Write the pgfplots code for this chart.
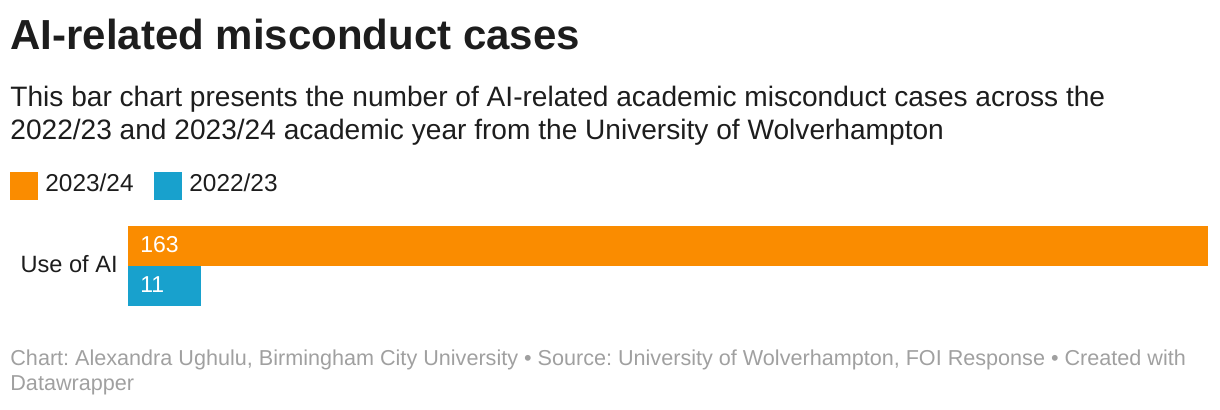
\documentclass[border=0pt]{standalone}
\usepackage{pgfplots}
\pgfplotsset{compat=1.18}
\usepackage{fontspec}
\setmainfont{Liberation Sans}
\frenchspacing
\definecolor{dwOrange}{HTML}{FA8C00}
\definecolor{dwBlue}{HTML}{18A1CD}
\definecolor{dwText}{HTML}{1D1D1D}
\definecolor{dwGray}{HTML}{A0A0A0}
\begin{document}
\begin{tikzpicture}
\useasboundingbox (0,0) rectangle (610pt,205pt);
% title & subtitle
\node[anchor=base west, inner sep=0pt, text=dwText, font=\fontsize{21}{25}\selectfont\bfseries] at (5pt,180pt) {AI-related misconduct cases};
\node[anchor=base west, inner sep=0pt, text=dwText, font=\fontsize{14.05}{16}\selectfont] at (5pt,151.5pt) {This bar chart presents the number of AI-related academic misconduct cases across the};
\node[anchor=base west, inner sep=0pt, text=dwText, font=\fontsize{14.05}{16}\selectfont] at (5pt,135pt) {2022/23 and 2023/24 academic year from the University of Wolverhampton};
% legend
\fill[dwOrange] (5pt,105pt) rectangle (19pt,119pt);
\node[anchor=base west, inner sep=0pt, text=dwText, font=\fontsize{12.2}{14}\selectfont] at (22.5pt,109pt) {2023/24};
\fill[dwBlue] (77pt,105pt) rectangle (91pt,119pt);
\node[anchor=base west, inner sep=0pt, text=dwText, font=\fontsize{12.2}{14}\selectfont] at (94.5pt,109pt) {2022/23};
% category label
\node[anchor=base east, inner sep=0pt, text=dwText, font=\fontsize{11.8}{14}\selectfont] at (59pt,68.5pt) {Use of AI};
\begin{axis}[
  at={(64pt,52pt)}, anchor=south west,
  scale only axis, width=540pt, height=40pt,
  xmin=0, xmax=163, ymin=-1, ymax=1,
  axis lines=none, ticks=none,
  xbar, bar width=20pt, bar shift=0pt,
  clip=false,
]
\addplot[fill=dwOrange, draw=none] coordinates {(163,0.5)};
\addplot[fill=dwBlue, draw=none] coordinates {(11,-0.5)};
\node[anchor=base west, inner sep=0pt, text=white, font=\fontsize{11.5}{13}\selectfont, xshift=6pt, yshift=-3.5pt] at (axis cs:0,0.5) {163};
\node[anchor=base west, inner sep=0pt, text=white, font=\fontsize{11.5}{13}\selectfont, xshift=6pt, yshift=-3.5pt] at (axis cs:0,-0.5) {11};
\end{axis}
% footer
\node[anchor=base west, inner sep=0pt, text=dwGray, font=\fontsize{10.8}{12}\selectfont] at (5pt,22pt) {Chart: Alexandra Ughulu, Birmingham City University \textbullet{} Source: University of Wolverhampton, FOI Response \textbullet{} Created with};
\node[anchor=base west, inner sep=0pt, text=dwGray, font=\fontsize{10.8}{12}\selectfont] at (5pt,9.5pt) {Datawrapper};
\end{tikzpicture}
\end{document}
